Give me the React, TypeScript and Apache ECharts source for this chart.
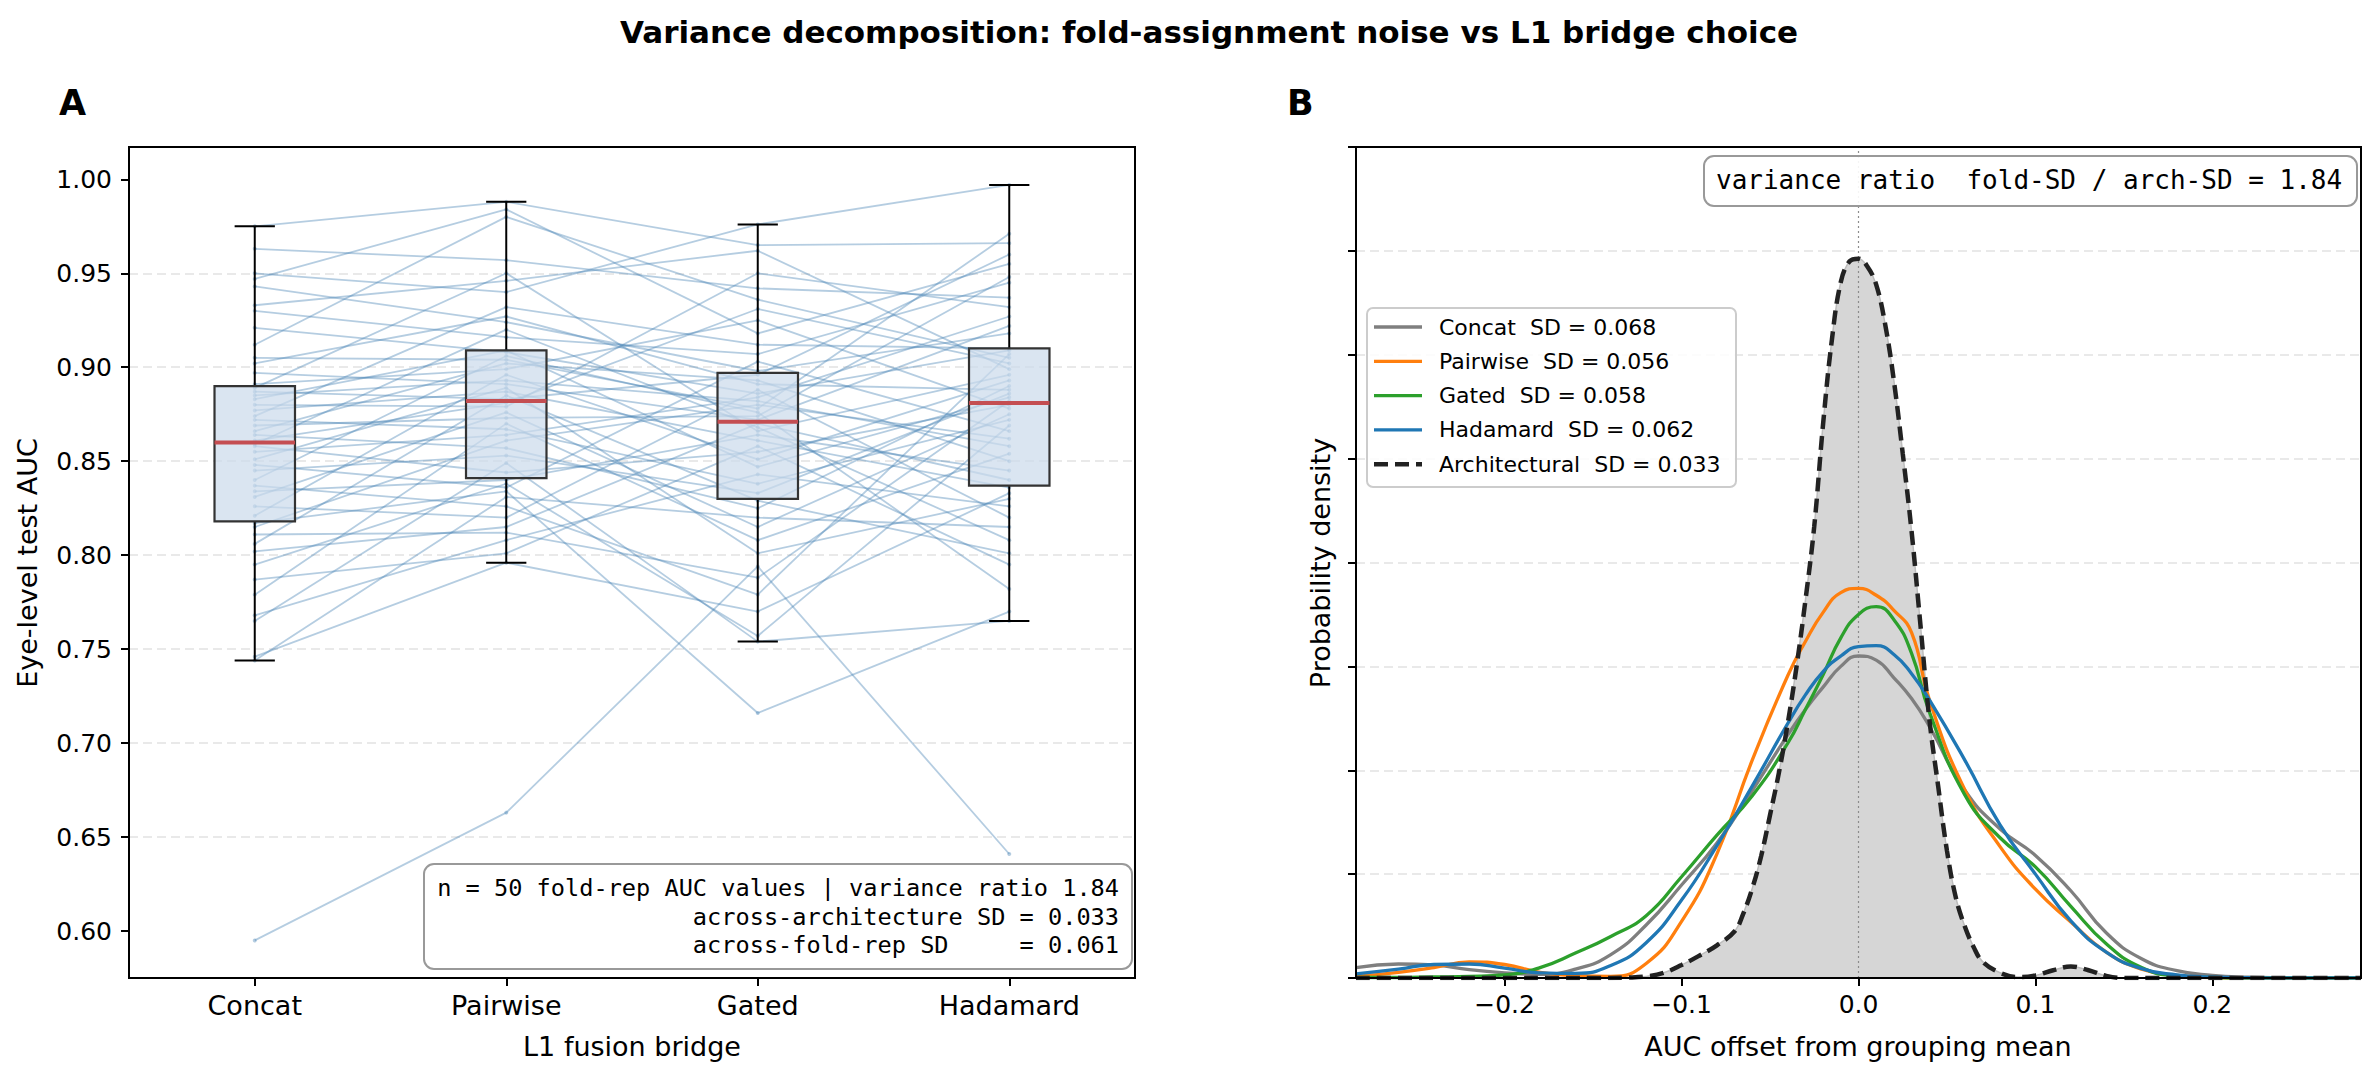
import { useEffect, useRef } from 'react'
import * as echarts from 'echarts'

const FONT = '"DejaVu Sans", sans-serif'
const MONO = '"DejaVu Sans Mono", monospace'

// panel A: eye-level test AUC per fold-rep (50 reps) for each L1 bridge
const bridges = ['Concat', 'Pairwise', 'Gated', 'Hadamard']

const concatAuc = [
  0.595, 0.744, 0.746, 0.765, 0.768, 0.779, 0.787, 0.795, 0.802, 0.806,
  0.811, 0.815, 0.817, 0.821, 0.826, 0.831, 0.834, 0.837, 0.84, 0.845,
  0.848, 0.851, 0.855, 0.858, 0.859, 0.861, 0.864, 0.866, 0.869, 0.872,
  0.874, 0.877, 0.88, 0.883, 0.885, 0.887, 0.889, 0.891, 0.897, 0.902,
  0.905, 0.912, 0.921, 0.93, 0.933, 0.943, 0.947, 0.95, 0.963, 0.975,
]
const pairwiseAuc = [
  0.663, 0.831, 0.796, 0.849, 0.808, 0.87, 0.801, 0.838, 0.815, 0.885,
  0.812, 0.861, 0.834, 0.896, 0.82, 0.876, 0.84, 0.826, 0.906, 0.853,
  0.836, 0.889, 0.864, 0.844, 0.92, 0.881, 0.857, 0.902, 0.873, 0.867,
  0.932, 0.887, 0.879, 0.909, 0.893, 0.883, 0.95, 0.899, 0.891, 0.927,
  0.904, 0.98, 0.908, 0.916, 0.946, 0.924, 0.984, 0.94, 0.957, 0.988,
]
const gatedAuc = [
  0.794, 0.82, 0.77, 0.754, 0.843, 0.808, 0.858, 0.757, 0.87, 0.829,
  0.788, 0.88, 0.716, 0.851, 0.888, 0.815, 0.864, 0.779, 0.876, 0.833,
  0.903, 0.801, 0.884, 0.855, 0.868, 0.931, 0.825, 0.893, 0.874, 0.838,
  0.912, 0.861, 0.95, 0.847, 0.882, 0.896, 0.866, 0.925, 0.872, 0.891,
  0.878, 0.936, 0.886, 0.907, 0.962, 0.898, 0.918, 0.976, 0.942, 0.965,
]
const hadamardAuc = [
  0.641, 0.815, 0.833, 0.765, 0.826, 0.854, 0.795, 0.869, 0.84, 0.801,
  0.882, 0.862, 0.77, 0.893, 0.82, 0.875, 0.845, 0.907, 0.782, 0.886,
  0.866, 0.83, 0.927, 0.88, 0.808, 0.902, 0.89, 0.85, 0.948, 0.872,
  0.91, 0.836, 0.932, 0.884, 0.858, 0.96, 0.896, 0.878, 0.922, 0.888,
  0.971, 0.905, 0.909, 0.945, 0.899, 0.918, 0.955, 0.997, 0.937, 0.966,
]

// box summaries (whisker low, Q1, median, Q3, whisker high)
const boxLow = [0.744, 0.796, 0.754, 0.765]
const boxQ1 = [0.818, 0.841, 0.83, 0.837]
const boxMedian = [0.86, 0.882, 0.871, 0.881]
const boxQ3 = [0.89, 0.909, 0.897, 0.91]
const boxHigh = [0.975, 0.988, 0.976, 0.997]

const aucTicks = [0.6, 0.65, 0.7, 0.75, 0.8, 0.85, 0.9, 0.95, 1.0]

// panel B: densities of AUC offsets
const kdeX = [
  -0.284, -0.26, -0.24, -0.22, -0.2, -0.18, -0.16, -0.14, -0.12, -0.1, -0.08,
  -0.06, -0.04, -0.03, -0.02, -0.01, 0, 0.01, 0.02, 0.03, 0.04, 0.06, 0.08,
  0.1, 0.12, 0.14, 0.16, 0.18, 0.2, 0.22, 0.24, 0.26, 0.284,
]
const concatDensity = [
  0.2, 0.27, 0.25, 0.16, 0.1, 0.07, 0.17, 0.45, 1.02, 1.79, 2.6, 3.61, 4.68,
  5.17, 5.6, 6.0, 6.2, 6.12, 5.78, 5.38, 4.85, 3.62, 2.87, 2.36, 1.68, 0.87,
  0.37, 0.14, 0.05, 0.015, 0.004, 0, 0,
]
const pairwiseDensity = [
  0.03, 0.11, 0.2, 0.31, 0.26, 0.11, 0.045, 0.03, 0.28, 1.09, 2.39, 4.2, 5.82,
  6.48, 7.04, 7.42, 7.5, 7.37, 7.08, 6.65, 5.36, 3.63, 2.53, 1.71, 1.08, 0.5,
  0.17, 0.05, 0.01, 0, 0, 0, 0,
]
const gatedDensity = [
  0.01, 0.01, 0.02, 0.03, 0.06, 0.2, 0.48, 0.8, 1.2, 1.95, 2.75, 3.51, 4.52,
  5.17, 5.84, 6.55, 7.0, 7.15, 6.9, 6.25, 5.13, 3.53, 2.7, 2.14, 1.38, 0.66,
  0.2, 0.04, 0.01, 0, 0, 0, 0,
]
const hadamardDensity = [
  0.08, 0.17, 0.26, 0.27, 0.19, 0.1, 0.09, 0.24, 0.68, 1.5, 2.55, 3.7, 4.9,
  5.45, 5.9, 6.2, 6.38, 6.4, 6.23, 5.86, 5.36, 4.2, 2.95, 2.0, 1.1, 0.5, 0.18,
  0.06, 0.02, 0.005, 0, 0, 0,
]
const archX = [
  -0.284, -0.24, -0.2, -0.17, -0.15, -0.13, -0.12, -0.11, -0.1, -0.09, -0.08,
  -0.07, -0.065, -0.06, -0.055, -0.05, -0.045, -0.04, -0.035, -0.03, -0.025,
  -0.02, -0.015, -0.01, -0.005, 0, 0.005, 0.01, 0.015, 0.02, 0.025, 0.03,
  0.035, 0.04, 0.045, 0.05, 0.055, 0.06, 0.065, 0.07, 0.08, 0.09, 0.1, 0.11,
  0.12, 0.13, 0.14, 0.15, 0.17, 0.2, 0.24, 0.284,
]
const archDensity = [
  0, 0, 0, 0, 0, 0.01, 0.03, 0.1, 0.25, 0.43, 0.63, 0.9, 1.25, 1.73, 2.35,
  3.14, 3.95, 4.9, 6.0, 7.27, 8.7, 10.67, 12.3, 13.4, 13.8, 13.85, 13.7,
  13.35, 12.6, 11.5, 10.1, 8.6, 6.8, 5.0, 3.7, 2.45, 1.55, 1.0, 0.6, 0.32,
  0.1, 0.02, 0.05, 0.15, 0.22, 0.15, 0.04, 0, 0, 0, 0, 0,
]
const offsetTicks = [-0.2, -0.1, 0, 0.1, 0.2]

const legendNames = ['Concat', 'Pairwise', 'Gated', 'Hadamard', 'Architectural']
const legendSd = [0.068, 0.056, 0.058, 0.062, 0.033]
const curveColors = ['#7f7f7f', '#ff7f0e', '#2ca02c', '#1f77b4', '#222222']

const NB = '\u00a0'
const BOX_W = 0.32
const LINE_BLUE = 'rgba(70,130,180,0.4)'

function label(x: number, y: number, text: string, font: string, align = 'center', extra: any = {}) {
  return {
    type: 'text',
    x,
    y,
    silent: true,
    z: 100,
    ...extra,
    style: {
      text,
      font,
      fill: '#000',
      textAlign: align,
      align,
      textVerticalAlign: 'middle',
      verticalAlign: 'middle',
    },
  }
}

const App = () => {
  const chartRef = useRef<HTMLDivElement>(null)

  useEffect(() => {
    if (!chartRef.current) return
    const chart = echarts.init(chartRef.current, null, { renderer: 'svg' })

    const repLines = concatAuc.map((_, r) => ({
      type: 'line',
      xAxisIndex: 0,
      yAxisIndex: 0,
      data: [concatAuc[r], pairwiseAuc[r], gatedAuc[r], hadamardAuc[r]],
      symbol: 'circle',
      symbolSize: 4,
      silent: true,
      z: 2,
      lineStyle: { color: LINE_BLUE, width: 1.8 },
      itemStyle: { color: LINE_BLUE, borderWidth: 0 },
    }))

    const boxSeries = {
      type: 'custom',
      xAxisIndex: 0,
      yAxisIndex: 0,
      z: 5,
      silent: true,
      data: bridges.map((_, i) => [i, boxLow[i], boxQ1[i], boxMedian[i], boxQ3[i], boxHigh[i]]),
      encode: { x: 0, y: [1, 2, 3, 4, 5] },
      renderItem: (_params: any, api: any) => {
        const i = api.value(0)
        const band = api.size([1, 0])[0]
        const half = (band * BOX_W) / 2
        const cx = api.coord([i, api.value(3)])[0]
        const yLow = api.coord([i, api.value(1)])[1]
        const yQ1 = api.coord([i, api.value(2)])[1]
        const yMed = api.coord([i, api.value(3)])[1]
        const yQ3 = api.coord([i, api.value(4)])[1]
        const yHigh = api.coord([i, api.value(5)])[1]
        const black = { stroke: '#000', lineWidth: 2 }
        return {
          type: 'group',
          children: [
            { type: 'line', shape: { x1: cx, y1: yLow, x2: cx, y2: yQ1 }, style: black },
            { type: 'line', shape: { x1: cx, y1: yQ3, x2: cx, y2: yHigh }, style: black },
            { type: 'line', shape: { x1: cx - half / 2, y1: yLow, x2: cx + half / 2, y2: yLow }, style: black },
            { type: 'line', shape: { x1: cx - half / 2, y1: yHigh, x2: cx + half / 2, y2: yHigh }, style: black },
            {
              type: 'rect',
              shape: { x: cx - half, y: yQ3, width: half * 2, height: yQ1 - yQ3 },
              style: { fill: 'rgba(204,219,236,0.72)', stroke: '#333', lineWidth: 2.2 },
            },
            {
              type: 'line',
              shape: { x1: cx - half, y1: yMed, x2: cx + half, y2: yMed },
              style: { stroke: '#c44e52', lineWidth: 4 },
            },
          ],
        }
      },
    }

    const densities = [concatDensity, pairwiseDensity, gatedDensity, hadamardDensity]
    const archData = archX.map((x, i) => [x, archDensity[i]])

    const curveSeries = densities.map((d, k) => ({
      type: 'line',
      xAxisIndex: 1,
      yAxisIndex: 1,
      data: kdeX.map((x, i) => [x, d[i]]),
      smooth: 0.5,
      symbol: 'none',
      silent: true,
      z: 3,
      lineStyle: { color: curveColors[k], width: 3.3 },
    }))

    const axisLine = { show: true, onZero: false, lineStyle: { color: '#000', width: 2 } }
    const axisTick = { show: true, length: 8, lineStyle: { color: '#000', width: 2 } }
    const gridLine = {
      show: true,
      showMinLine: false,
      showMaxLine: false,
      lineStyle: { color: '#e2e2e2', width: 1.5, type: [9, 5] },
    }

    // legend for panel B (drawn by hand to match the boxed matplotlib legend)
    const legendX = 1367
    const legendY = 308
    const legendItems: any[] = [
      {
        type: 'rect',
        shape: { x: legendX, y: legendY, width: 369, height: 179, r: 6 },
        style: { fill: 'rgba(255,255,255,0.85)', stroke: '#cccccc', lineWidth: 2 },
        z: 90,
        silent: true,
      },
    ]
    legendNames.forEach((name, k) => {
      const cy = legendY + 19 + k * 34.3
      const dashed = k === 4
      legendItems.push({
        type: 'line',
        shape: { x1: legendX + 7, y1: cy, x2: legendX + 55, y2: cy },
        style: { stroke: curveColors[k], lineWidth: dashed ? 4.5 : 3.3, lineDash: dashed ? [14, 7] : null },
        z: 95,
        silent: true,
      })
      legendItems.push(label(legendX + 72, cy, `${name}${NB} SD = ${legendSd[k].toFixed(3)}`, `22px ${FONT}`, 'left'))
    })

    const noteLines = [
      'n = 50 fold-rep AUC values | variance ratio 1.84',
      'across-architecture SD = 0.033',
      `across-fold-rep SD${NB}${NB}${NB}${NB}${NB}= 0.061`,
    ]

    const option: any = {
      animation: false,
      backgroundColor: '#fff',
      textStyle: { fontFamily: FONT },
      grid: [
        { left: 129, top: 147, width: 1006, height: 831, show: true, borderColor: '#000', borderWidth: 2, backgroundColor: 'transparent' },
        { left: 1356, top: 147, width: 1005, height: 831, show: true, borderColor: '#000', borderWidth: 2, backgroundColor: 'transparent' },
      ],
      xAxis: [
        {
          type: 'category',
          gridIndex: 0,
          data: bridges,
          boundaryGap: true,
          axisLine,
          axisTick: { ...axisTick, alignWithLabel: true },
          axisLabel: { color: '#000', fontSize: 27, fontFamily: FONT, margin: 14 },
          splitLine: { show: false },
        },
        {
          type: 'value',
          gridIndex: 1,
          min: -0.284,
          max: 0.284,
          axisLine,
          axisTick: { ...axisTick, customValues: offsetTicks },
          axisLabel: {
            customValues: offsetTicks,
            color: '#000',
            fontSize: 25,
            fontFamily: FONT,
            margin: 14,
            formatter: (v: number) => v.toFixed(1).replace('-', '\u2212'),
          },
          splitLine: { show: false },
        },
      ],
      yAxis: [
        {
          type: 'value',
          gridIndex: 0,
          min: 0.575,
          max: 1.0172,
          axisLine,
          axisTick: { ...axisTick, customValues: aucTicks },
          axisLabel: {
            customValues: aucTicks,
            color: '#000',
            fontSize: 25,
            fontFamily: FONT,
            margin: 17,
            formatter: (v: number) => v.toFixed(2),
          },
          splitLine: gridLine,
        },
        {
          type: 'value',
          gridIndex: 1,
          min: 0,
          max: 16,
          interval: 2,
          axisLine,
          axisTick,
          axisLabel: { show: false },
          splitLine: gridLine,
        },
      ],
      series: [
        ...repLines,
        boxSeries,
        {
          type: 'line',
          xAxisIndex: 1,
          yAxisIndex: 1,
          data: archData,
          smooth: 0.4,
          symbol: 'none',
          silent: true,
          z: 1,
          lineStyle: { color: '#bdbdbd', width: 1.5 },
          areaStyle: { color: '#d6d6d6', opacity: 1 },
        },
        {
          type: 'line',
          xAxisIndex: 1,
          yAxisIndex: 1,
          data: [
            [0, 0],
            [0, 16],
          ],
          symbol: 'none',
          silent: true,
          z: 2,
          lineStyle: { color: '#8c8c8c', width: 1.2, type: [2, 3] },
        },
        ...curveSeries,
        {
          type: 'line',
          xAxisIndex: 1,
          yAxisIndex: 1,
          data: archData,
          smooth: 0.4,
          symbol: 'none',
          silent: true,
          z: 4,
          lineStyle: { color: '#222222', width: 4.5, type: [14, 7] },
        },
      ],
      graphic: [
        label(1209, 32, 'Variance decomposition: fold-assignment noise vs L1 bridge choice', `bold 31px ${FONT}`),
        label(59, 103, 'A', `bold 35px ${FONT}`, 'left'),
        label(1287, 103, 'B', `bold 35px ${FONT}`, 'left'),
        label(27, 563, 'Eye-level test AUC', `27px ${FONT}`, 'center', { rotation: Math.PI / 2 }),
        label(632, 1046, 'L1 fusion bridge', `27px ${FONT}`),
        label(1320, 563, 'Probability density', `27px ${FONT}`, 'center', { rotation: Math.PI / 2 }),
        label(1858, 1046, 'AUC offset from grouping mean', `27px ${FONT}`),
        {
          type: 'rect',
          shape: { x: 424, y: 864, width: 708, height: 105, r: 10 },
          style: { fill: 'rgba(255,255,255,0.9)', stroke: '#999999', lineWidth: 2 },
          z: 90,
          silent: true,
        },
        ...noteLines.map((t, k) => label(1119, 888 + k * 28.5, t, `23.6px ${MONO}`, 'right')),
        {
          type: 'rect',
          shape: { x: 1704, y: 156, width: 653, height: 50, r: 10 },
          style: { fill: 'rgba(255,255,255,0.9)', stroke: '#999999', lineWidth: 2 },
          z: 90,
          silent: true,
        },
        label(1716, 180, `variance ratio${NB} fold-SD / arch-SD = 1.84`, `26px ${MONO}`, 'left'),
        ...legendItems,
        {
          // redraw the frame of panel B on top of the data
          type: 'rect',
          shape: { x: 1356, y: 147, width: 1005, height: 831 },
          style: { fill: 'none', stroke: '#000', lineWidth: 2 },
          z: 80,
          silent: true,
        },
      ],
    }

    chart.setOption(option)
    return () => {
      chart.dispose()
    }
  }, [])

  return <div ref={chartRef} style={{ position: 'absolute', left: 0, top: 0, width: 2379, height: 1080 }} />
}

export default App
